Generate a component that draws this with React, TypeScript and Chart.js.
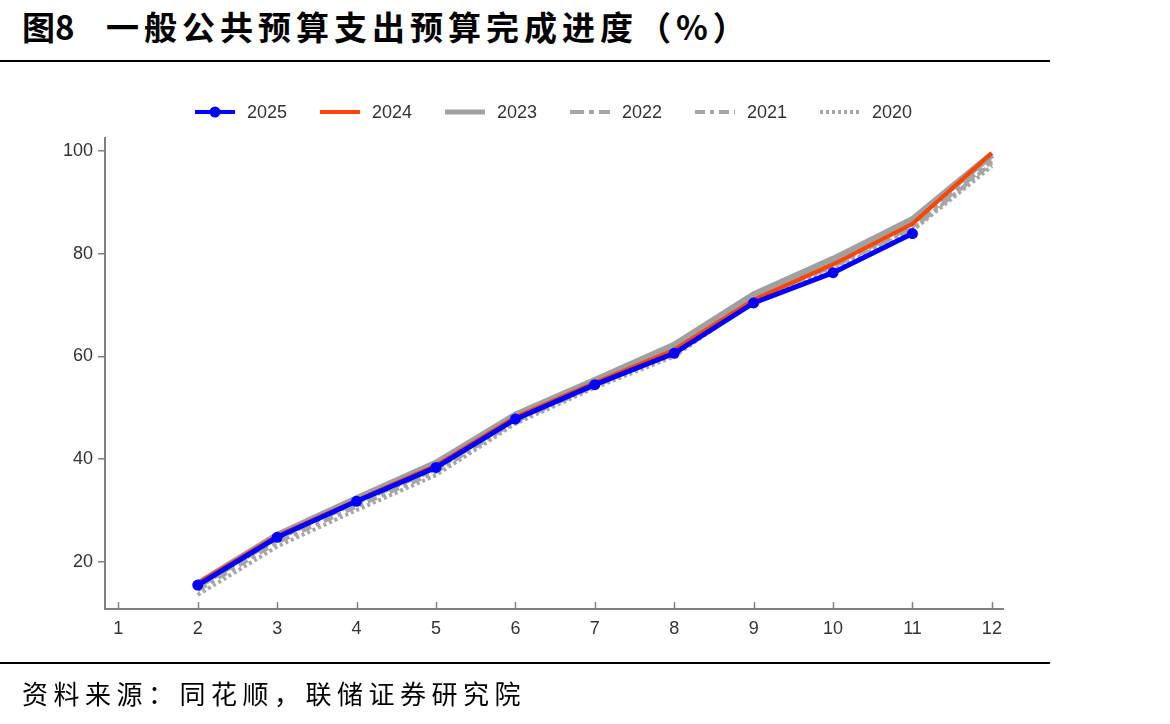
import React, { useEffect, useRef } from "react";
import { Chart, registerables } from "chart.js";

Chart.register(...registerables);

const months = [1, 2, 3, 4, 5, 6, 7, 8, 9, 10, 11, 12];
const yTicks = [20, 40, 60, 80, 100];
const seriesNames = ["2025", "2024", "2023", "2022", "2021", "2020"];
const s2025 = [null, 15.5, 24.8, 31.8, 38.4, 47.8, 54.5, 60.6, 70.4, 76.3, 83.9, null];
const s2024 = [null, 15.9, 25.1, 32.0, 38.8, 48.2, 54.9, 61.3, 71.0, 77.9, 85.8, 99.6];
const s2023 = [null, 15.7, 25.2, 32.3, 39.2, 48.6, 55.3, 62.2, 72.0, 78.9, 86.6, 99.3];
const s2022 = [null, 15.0, 24.5, 31.5, 38.0, 47.8, 54.6, 61.0, 71.0, 77.8, 85.2, 98.0];
const s2021 = [null, 14.5, 23.8, 30.8, 37.5, 47.3, 54.2, 60.8, 71.2, 77.5, 84.8, 97.6];
const s2020 = [null, 13.6, 23.0, 30.1, 36.9, 46.9, 53.9, 60.0, 70.8, 76.9, 84.5, 97.0];

const seriesValues = [s2025, s2024, s2023, s2022, s2021, s2020];
const colors = ["#0000FF", "#FF4500", "#A0A0A0", "#A6A6A6", "#A6A6A6", "#A6A6A6"];
const widths = [5, 4, 7, 4, 4, 4];
const dashes: number[][] = [[], [], [], [14, 5, 5, 5], [10, 5, 4, 5], [3, 3]];

const AXIS_LEFT = 105;
const AXIS_BOTTOM = 609;
const AXIS_TOP = 138;
const AXIS_RIGHT = 1003;

const legendPlugin = {
  id: "customLegend",
  afterDraw(chart: any) {
    const ctx = chart.ctx;
    const y = 112;
    ctx.save();
    seriesNames.forEach((name, i) => {
      const x0 = 195 + i * 125;
      ctx.strokeStyle = colors[i];
      ctx.lineWidth = i === 2 ? 5 : 4;
      ctx.setLineDash(dashes[i]);
      ctx.beginPath();
      ctx.moveTo(x0, y);
      ctx.lineTo(x0 + 40, y);
      ctx.stroke();
      ctx.setLineDash([]);
      if (i === 0) {
        ctx.fillStyle = colors[0];
        ctx.beginPath();
        ctx.arc(x0 + 20, y, 5.5, 0, Math.PI * 2);
        ctx.fill();
      }
      ctx.fillStyle = "#333333";
      ctx.font = "18px 'Liberation Sans', Arial, sans-serif";
      ctx.textBaseline = "middle";
      ctx.textAlign = "left";
      ctx.fillText(name, x0 + 52, y + 1);
    });
    // inward x tick marks
    const xs = chart.scales.x;
    ctx.strokeStyle = "#808080";
    ctx.lineWidth = 1.5;
    months.forEach((m) => {
      const px = Math.round(xs.getPixelForValue(m)) + 0.5;
      ctx.beginPath();
      ctx.moveTo(px, AXIS_BOTTOM);
      ctx.lineTo(px, AXIS_BOTTOM - 7);
      ctx.stroke();
    });
    ctx.restore();
  },
};

export default function App() {
  const ref = useRef<HTMLCanvasElement | null>(null);

  useEffect(() => {
    if (!ref.current) return;
    const datasets = seriesNames.map((name, i) => ({
      label: name,
      data: months.map((m, j) => ({ x: m, y: seriesValues[i][j] })),
      borderColor: colors[i],
      backgroundColor: colors[i],
      borderWidth: widths[i],
      borderDash: dashes[i],
      pointRadius: i === 0 ? 5.5 : 0,
      pointHoverRadius: i === 0 ? 5.5 : 0,
      pointBorderWidth: 0,
      spanGaps: false,
      tension: 0,
      fill: false,
    }));
    const chart = new Chart(ref.current, {
      type: "line",
      data: { datasets },
      plugins: [legendPlugin],
      options: {
        responsive: false,
        animation: false,
        layout: { padding: { top: AXIS_TOP, right: 1170 - AXIS_RIGHT, left: 0, bottom: 0 } },
        plugins: { legend: { display: false }, tooltip: { enabled: false } },
        scales: {
          x: {
            type: "linear",
            min: 0.832,
            max: 12.14,
            afterBuildTicks: (s: any) => {
              s.ticks = months.map((v) => ({ value: v }));
            },
            afterFit: (s: any) => {
              s.height = 724 - AXIS_BOTTOM;
            },
            grid: { display: false, drawTicks: false },
            border: { display: true, color: "#808080", width: 2 },
            ticks: {
              padding: 9,
              color: "#333333",
              font: { family: "'Liberation Sans', Arial, sans-serif", size: 18 },
              maxRotation: 0,
              autoSkip: false,
            },
          },
          y: {
            type: "linear",
            min: 10.85,
            max: 102.5,
            afterBuildTicks: (s: any) => {
              s.ticks = yTicks.map((v) => ({ value: v }));
            },
            afterFit: (s: any) => {
              s.width = AXIS_LEFT;
            },
            grid: {
              display: true,
              drawOnChartArea: false,
              drawTicks: true,
              tickLength: 7,
              color: "#808080",
              lineWidth: 1.5,
            },
            border: { display: true, color: "#808080", width: 2 },
            ticks: {
              padding: 5,
              color: "#333333",
              font: { family: "'Liberation Sans', Arial, sans-serif", size: 18 },
            },
          },
        },
      },
    });
    return () => chart.destroy();
  }, []);

  return (
    <div
      style={{
        position: "fixed",
        left: 0,
        top: 0,
        width: 1170,
        height: 724,
        background: "#ffffff",
        overflow: "hidden",
      }}
    >
      <div
        style={{
          position: "absolute",
          left: 22,
          top: 8,
          fontFamily: "'Noto Sans CJK SC', sans-serif",
          fontWeight: 700,
          fontSize: 33,
          lineHeight: "36px",
          color: "#000",
          whiteSpace: "nowrap",
        }}
      >
        图8
      </div>
      <div
        style={{
          position: "absolute",
          left: 106,
          top: 8,
          fontFamily: "'Noto Sans CJK SC', sans-serif",
          fontWeight: 700,
          fontSize: 33,
          lineHeight: "36px",
          letterSpacing: 5,
          color: "#000",
          whiteSpace: "nowrap",
        }}
      >
        一般公共预算支出预算完成进度（%）
      </div>
      <div style={{ position: "absolute", left: 0, top: 60, width: 1050, height: 2, background: "#000" }} />
      <canvas
        ref={ref}
        width={1170}
        height={724}
        style={{ position: "absolute", left: 0, top: 0, width: 1170, height: 724 }}
      />
      <div style={{ position: "absolute", left: 0, top: 662, width: 1050, height: 2, background: "#000" }} />
      <div
        style={{
          position: "absolute",
          left: 22,
          top: 678,
          fontFamily: "'Noto Sans CJK SC', sans-serif",
          fontWeight: 400,
          fontSize: 26,
          lineHeight: "30px",
          letterSpacing: 5.5,
          color: "#000",
          whiteSpace: "nowrap",
        }}
      >
        资料来源：同花顺，联储证券研究院
      </div>
    </div>
  );
}
